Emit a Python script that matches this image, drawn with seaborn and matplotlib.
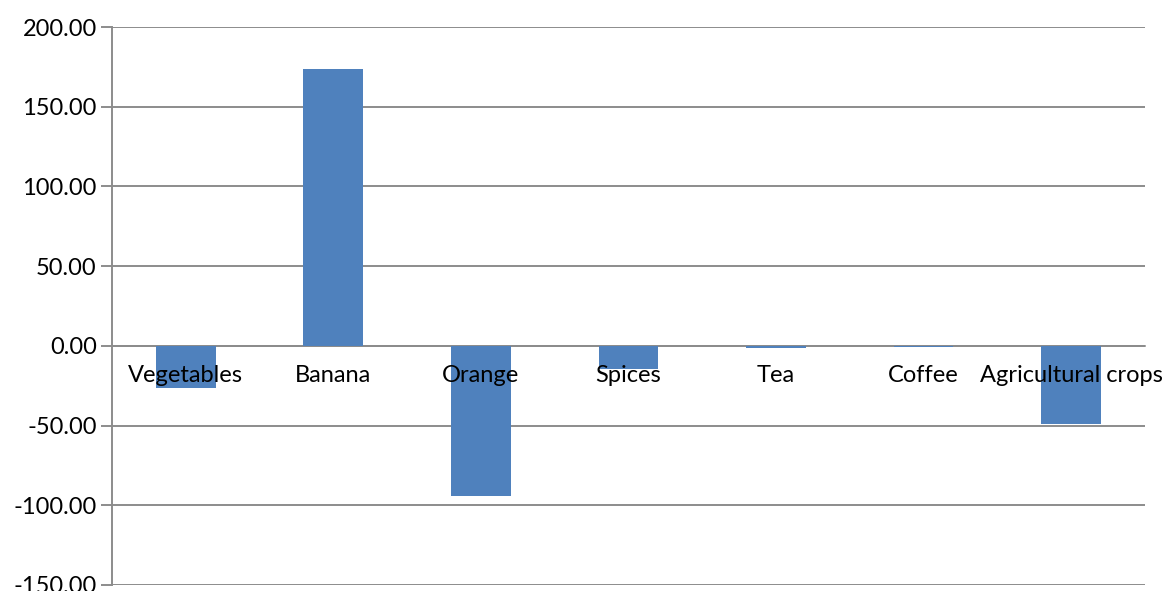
import matplotlib
matplotlib.use("Agg")
import matplotlib.pyplot as plt
import seaborn as sns
import pandas as pd
from matplotlib.ticker import FixedLocator, FormatStrFormatter

# values
categories = ["Vegetables", "Banana", "Orange", "Spices", "Tea", "Coffee", "Agricultural crops"]
values = [-26.3, 173.8, -94.1, -14.4, -1.6, -0.5, -48.9]

df = pd.DataFrame({"crop": categories, "value": values})

sns.set_style("white")
plt.rcParams["font.family"] = ["Lato", "DejaVu Sans"]

fig = plt.figure(figsize=(11.67, 5.91), dpi=100)
ax = fig.add_axes([0.096, 0.0102, 0.885, 0.944])

sns.barplot(data=df, x="crop", y="value", color="#4F81BD", width=0.405,
            saturation=1, linewidth=0, ax=ax, zorder=3)

grid_col = "#8c8c8c"
ax.set_ylim(-150, 200)
ax.set_xlim(-0.5, len(categories) - 0.5)
ax.set_yticks(range(-150, 201, 50))
ax.yaxis.set_major_formatter(FormatStrFormatter("%.2f"))
ax.yaxis.grid(True, color=grid_col, linewidth=1.4, zorder=0)
ax.set_axisbelow(True)
# category labels sit on top of the bars
ax.xaxis.set_zorder(5)

for s in ["top", "right"]:
    ax.spines[s].set_visible(False)
ax.spines["left"].set_color(grid_col)
ax.spines["left"].set_linewidth(1.4)
ax.spines["bottom"].set_position(("data", 0))
ax.spines["bottom"].set_color(grid_col)
ax.spines["bottom"].set_linewidth(1.2)
ax.spines["bottom"].set_zorder(2)

ax.xaxis.set_minor_locator(FixedLocator([i - 0.5 for i in range(len(categories) + 1)]))
ax.tick_params(axis="x", which="major", length=0, pad=14, labelsize=17, colors="black")
ax.tick_params(axis="x", which="minor", length=7, width=1.4, color=grid_col, direction="out")
ax.tick_params(axis="y", length=8, width=1.4, color=grid_col, labelsize=17,
               labelcolor="black", pad=3, left=True)

ax.set_xlabel("")
ax.set_ylabel("")

fig.savefig("out.png", dpi=100)
